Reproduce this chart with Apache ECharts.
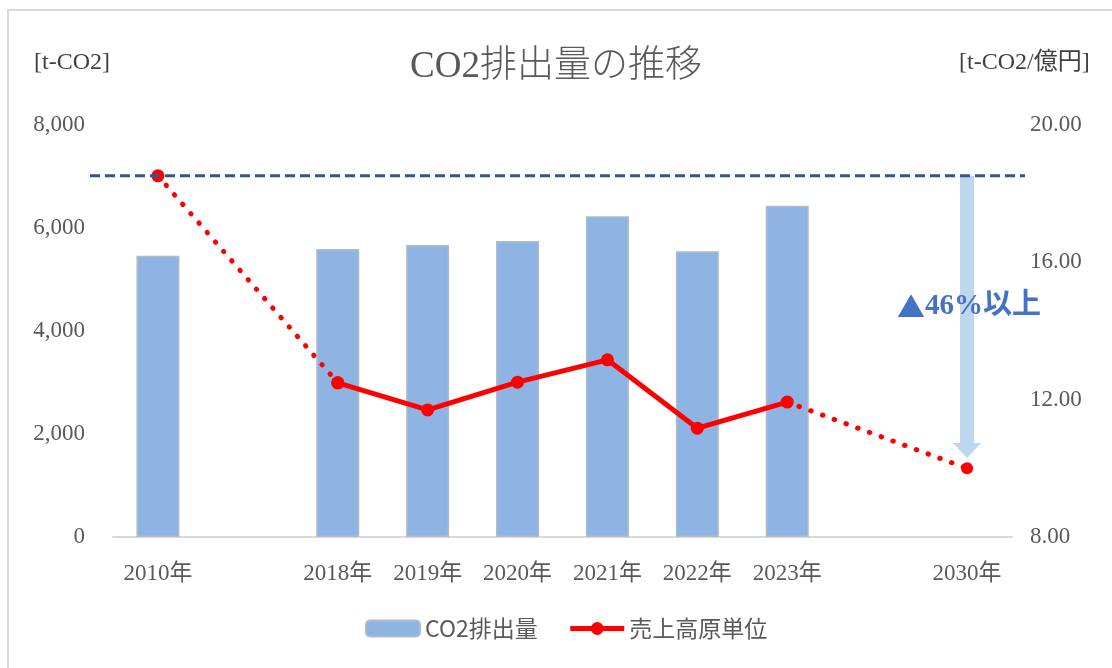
<!DOCTYPE html>
<html>
<head>
<meta charset="utf-8">
<script src="https://cdn.jsdelivr.net/npm/echarts@6/dist/echarts.min.js"></script>
<style>
html, body { margin: 0; padding: 0; background: #fff; }
#main { width: 1112px; height: 668px; }
</style>
</head>
<body>
<div id="main"></div>
<script>
var categories = ['2010年', '', '2018年', '2019年', '2020年', '2021年', '2022年', '2023年', '', '2030年'];
var co2Values = [5460, '-', 5590, 5670, 5750, 6230, 5550, 6430, '-', '-'];
var unitActual = ['-', '-', 12.49, 11.70, 12.51, 13.16, 11.17, 11.93, '-', '-'];
var unitPast = [18.52, '-', 12.49, '-', '-', '-', '-', '-', '-', '-'];
var unitTarget = ['-', '-', '-', '-', '-', '-', '-', 11.93, '-', 10.0];
var baseLevel = 18.52;
var arrowEnd = 10.3;
var leftTicks = { min: 0, max: 8000, interval: 2000 };
var rightTicks = { min: 8, max: 20, interval: 4 };

var serif = '"Liberation Serif", "Noto Sans CJK JP", serif';
var sans = '"Noto Sans CJK JP", sans-serif';
var grey = '#595959';

var myChart = echarts.init(document.getElementById('main'));

var option = {
	backgroundColor: '#fff',
	animation: false,
	title: [{
		text: 'CO2排出量の推移',
		left: 'center',
		top: 44,
		textStyle: { fontFamily: serif, fontWeight: 300, fontSize: 37, color: grey }
	}, {
		text: '[t-CO2]',
		left: 29,
		top: 46,
		textStyle: { fontFamily: serif, fontWeight: 'normal', fontSize: 24, color: '#404040' }
	}, {
		text: '[t-CO2/億円]',
		left: 954,
		top: 46,
		textStyle: { fontFamily: serif, fontWeight: 'normal', fontSize: 24, color: '#404040' }
	}],
	graphic: [{
		type: 'rect',
		silent: true,
		shape: { x: 8, y: 10, width: 1120, height: 700 },
		style: { fill: 'none', stroke: '#d9d9d9', lineWidth: 2 }
	}],
	legend: {
		data: [
			{ name: 'CO2排出量' },
			{ name: '売上高原単位', lineStyle: { width: 5 } }
		],
		bottom: 23,
		left: 360,
		itemWidth: 54,
		itemHeight: 16,
		itemGap: 30,
		textStyle: { fontFamily: sans, fontSize: 23, color: grey }
	},
	grid: [{
		left: 113,
		right: 100,
		top: 125,
		bottom: 131
	}, {
		// a slightly wider frame for the reference line
		left: 90,
		right: 87,
		top: 125,
		bottom: 131
	}],
	xAxis: [{
		type: 'category',
		data: categories,
		axisLine: { lineStyle: { color: '#d9d9d9', width: 2 } },
		axisTick: { show: false },
		axisLabel: { fontFamily: serif, fontSize: 23, color: grey, margin: 25, interval: 0 },
		splitLine: { show: false }
	}, {
		type: 'value',
		gridIndex: 1,
		min: 0,
		max: 1,
		show: false
	}],
	yAxis: [{
		type: 'value',
		min: leftTicks.min,
		max: leftTicks.max,
		interval: leftTicks.interval,
		axisLine: { show: false },
		axisTick: { show: false },
		splitLine: { show: false },
		axisLabel: {
			fontFamily: serif, fontSize: 23, color: grey, margin: 28,
			formatter: function(v) { return v.toLocaleString('en-US'); }
		}
	}, {
		type: 'value',
		min: rightTicks.min,
		max: rightTicks.max,
		interval: rightTicks.interval,
		axisLine: { show: false },
		axisTick: { show: false },
		splitLine: { show: false },
		axisLabel: {
			fontFamily: serif, fontSize: 23, color: grey, margin: 18,
			formatter: function(v) { return v.toFixed(2); }
		}
	}, {
		type: 'value',
		gridIndex: 1,
		min: rightTicks.min,
		max: rightTicks.max,
		show: false
	}],
	series: [{
		name: 'CO2排出量',
		type: 'bar',
		barWidth: 43,
		data: co2Values,
		itemStyle: { color: '#8eb4e3', borderColor: '#adbccc', borderWidth: 1.5 },
		z: 1
	}, {
		name: '過去',
		type: 'line',
		yAxisIndex: 1,
		data: unitPast,
		connectNulls: true,
		symbol: 'circle',
		symbolSize: 13,
		itemStyle: { color: '#ff0000' },
		lineStyle: { color: '#ff0000', width: 5, type: [0.5, 12], cap: 'round' },
		z: 3
	}, {
		name: '目標',
		type: 'line',
		yAxisIndex: 1,
		data: unitTarget,
		connectNulls: true,
		symbol: 'circle',
		symbolSize: 12,
		itemStyle: { color: '#ff0000' },
		lineStyle: { color: '#ff0000', width: 5, type: [0.5, 12], cap: 'round' },
		z: 3
	}, {
		name: '売上高原単位',
		type: 'line',
		yAxisIndex: 1,
		data: unitActual,
		symbol: 'circle',
		symbolSize: 13,
		itemStyle: { color: '#ff0000' },
		lineStyle: { color: '#ff0000', width: 5 },
		z: 4
	}, {
		name: '基準',
		type: 'line',
		xAxisIndex: 1,
		yAxisIndex: 2,
		symbol: 'none',
		data: [[0, baseLevel], [1, baseLevel]],
		lineStyle: { color: '#2f5597', width: 3, type: [10, 5] },
		z: 5
	}, {
		name: '削減',
		type: 'custom',
		yAxisIndex: 1,
		data: [[9, baseLevel, arrowEnd]],
		renderItem: function(params, api) {
			var p0 = api.coord([api.value(0), api.value(1)]);
			var p1 = api.coord([api.value(0), api.value(2)]);
			var x = p0[0];
			var bw = 7, hw = 14, hl = 15;
			var yb = p1[1] - hl;
			return {
				type: 'group',
				children: [{
					type: 'polygon',
					shape: {
						points: [
							[x - bw, p0[1]], [x + bw, p0[1]], [x + bw, yb], [x + hw, yb],
							[x, p1[1]], [x - hw, yb], [x - bw, yb]
						]
					},
					style: { fill: '#bdd7ee' }
				}, {
					type: 'text',
					x: x + 2,
					y: (p0[1] + p1[1]) / 2 - 10,
					style: {
						text: '{t|▲}{n|46%以上}',
						align: 'center',
						verticalAlign: 'middle',
						rich: {
							t: { fill: '#4472c4', font: '28px ' + sans },
							n: { fill: '#4472c4', font: 'bold 29px ' + serif }
						}
					}
				}]
			};
		},
		z: 2
	}]
};

myChart.setOption(option);
</script>
</body>
</html>
